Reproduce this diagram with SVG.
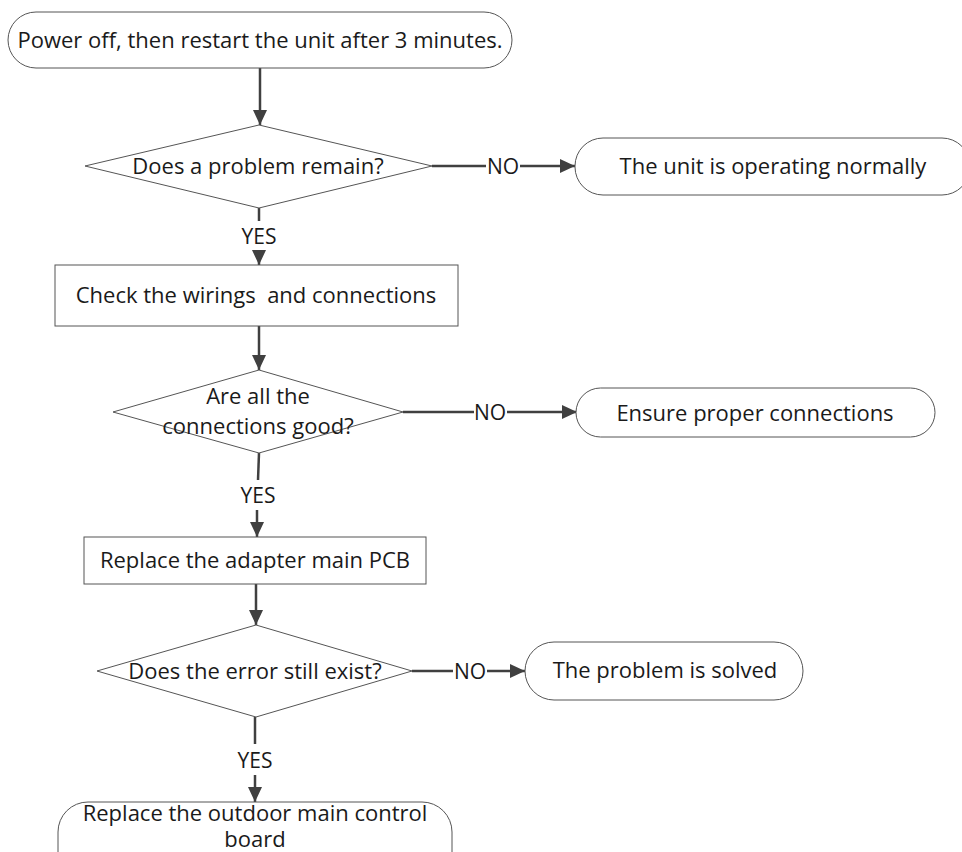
<svg xmlns="http://www.w3.org/2000/svg" width="962" height="852" viewBox="0 0 962 852">
<defs>
<style>
.node{fill:#fff;stroke:#555;stroke-width:1}
.t{font-family:"Open Sans","Noto Sans","Liberation Sans",sans-serif;font-size:22px;fill:#1a1a1a;text-anchor:middle}
.c{fill:none;stroke:#404040;stroke-width:2.5}
.lbl{font-family:"Open Sans","Noto Sans","Liberation Sans",sans-serif;font-size:21px;fill:#1a1a1a;text-anchor:middle}
</style>
<marker id="ah" markerUnits="userSpaceOnUse" markerWidth="16" markerHeight="14" refX="15" refY="7" orient="auto">
<path d="M0,0 L15,7 L0,14 Z" fill="#404040"/>
</marker>
</defs>
<rect width="962" height="852" fill="#fff"/>
<g id="connectors">
<line class="c" x1="260" y1="68" x2="260" y2="125" marker-end="url(#ah)"/>
<line class="c" x1="432" y1="166" x2="486" y2="166"/>
<text class="lbl" x="503" y="174">NO</text>
<line class="c" x1="520" y1="166" x2="575" y2="166" marker-end="url(#ah)"/>
<line class="c" x1="259" y1="208" x2="259" y2="221"/>
<text class="lbl" x="259" y="244">YES</text>
<line class="c" x1="259" y1="250" x2="259" y2="265" marker-end="url(#ah)"/>
<line class="c" x1="259" y1="326" x2="259" y2="370" marker-end="url(#ah)"/>
<line class="c" x1="403" y1="412" x2="474" y2="412"/>
<text class="lbl" x="490" y="420">NO</text>
<line class="c" x1="507" y1="412" x2="577" y2="412" marker-end="url(#ah)"/>
<line class="c" x1="259" y1="453" x2="258" y2="480"/>
<text class="lbl" x="258" y="503">YES</text>
<line class="c" x1="257" y1="510" x2="257" y2="537" marker-end="url(#ah)"/>
<line class="c" x1="256" y1="584" x2="256" y2="625" marker-end="url(#ah)"/>
<line class="c" x1="412" y1="671" x2="453" y2="671"/>
<text class="lbl" x="470" y="679">NO</text>
<line class="c" x1="487" y1="671" x2="525" y2="671" marker-end="url(#ah)"/>
<line class="c" x1="255" y1="717" x2="255" y2="744"/>
<text class="lbl" x="255" y="768">YES</text>
<line class="c" x1="255" y1="775" x2="255" y2="802" marker-end="url(#ah)"/>
</g>
<g id="start">
<rect class="node" x="8" y="12" width="504" height="56" rx="28" ry="28"/>
<text class="t" x="260" y="48">Power off, then restart the unit after 3 minutes.</text>
</g>
<g id="d1">
<polygon class="node" points="259,125 432,166 259,208 85,166"/>
<text class="t" x="258" y="174">Does a problem remain?</text>
</g>
<g id="ok1">
<rect class="node" x="575" y="138" width="395" height="57" rx="28" ry="28"/>
<text class="t" x="773" y="174">The unit is operating normally</text>
</g>
<g id="check">
<rect class="node" x="55" y="265" width="403" height="61"/>
<text class="t" x="256" y="303" xml:space="preserve">Check the wirings  and connections</text>
</g>
<g id="d2">
<polygon class="node" points="259,370 403,412 259,453 113,412"/>
<text class="t" x="258" y="404">Are all the</text>
<text class="t" x="258" y="434">connections good?</text>
</g>
<g id="ensure">
<rect class="node" x="576" y="388" width="359" height="49" rx="24.5" ry="24.5"/>
<text class="t" x="755" y="421">Ensure proper connections</text>
</g>
<g id="replacePCB">
<rect class="node" x="84" y="537" width="342" height="47"/>
<text class="t" x="255" y="568">Replace the adapter main PCB</text>
</g>
<g id="d3">
<polygon class="node" points="256,625 412,671 256,717 97,671"/>
<text class="t" x="255" y="679">Does the error still exist?</text>
</g>
<g id="solved">
<rect class="node" x="525" y="642" width="278" height="58" rx="29" ry="29"/>
<text class="t" x="665" y="678">The problem is solved</text>
</g>
<g id="replaceOutdoor">
<rect class="node" x="58" y="802" width="394" height="80" rx="30" ry="30"/>
<text class="t" x="255" y="821">Replace the outdoor main control</text>
<text class="t" x="255" y="847">board</text>
</g>
</svg>
